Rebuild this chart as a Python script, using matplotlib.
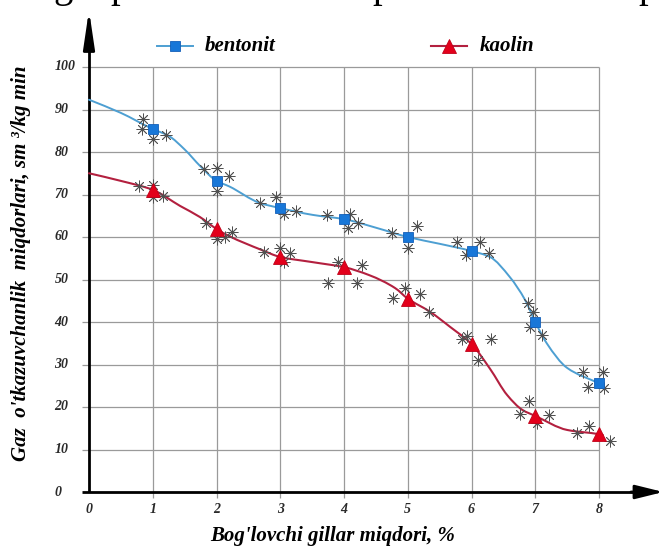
import numpy as np
import matplotlib
matplotlib.use("Agg")
import matplotlib.pyplot as plt
from matplotlib.path import Path
from matplotlib.patches import PathPatch

plt.rcParams['font.family'] = ['Liberation Serif', 'DejaVu Serif']

# ---------------- data ----------------
x_cat = [1, 2, 3, 4, 5, 6, 7, 8]
bentonit = [85.4, 73.2, 66.8, 64.2, 60.0, 56.7, 40.0, 25.6]
kaolin = [71.1, 61.9, 55.3, 52.9, 45.5, 34.8, 17.9, 13.6]

# fitted curves
bent_curve_x = [0, 0.5, 1, 1.25, 1.5, 1.75, 2, 2.2, 2.68, 3, 3.51, 4, 4.52, 5, 5.5, 6, 6.29, 6.6, 6.84, 7, 7.18, 7.5, 8, 8.06]
bent_curve_y = [92.3, 89.2, 85.4, 83.8, 80.6, 76.6, 73.2, 71.9, 68.0, 66.8, 65.2, 64.2, 62.1, 60.0, 58.4, 56.7, 55.3, 50.6, 45.2, 40.0, 35.0, 29.2, 25.6, 25.2]
kaol_curve_x = [0, 0.5, 1, 1.43, 1.74, 2, 2.2, 2.7, 3, 3.5, 4, 4.4, 4.8, 5, 5.35, 5.66, 6, 6.29, 6.56, 6.8, 7, 7.5, 8, 8.06]
kaol_curve_y = [75.0, 73.2, 71.1, 67.3, 64.7, 61.9, 60.2, 57.0, 55.3, 54.1, 52.9, 51.0, 48.0, 45.5, 42.4, 38.9, 34.8, 29.0, 22.8, 19.3, 17.9, 14.6, 13.6, 13.4]

# experimental points (asterisks)
bent_obs_x = [0.85, 0.83, 1.0, 1.21, 1.80, 2.01, 2.20, 2.01, 2.68, 2.93, 3.06, 3.25,
              3.73, 4.09, 4.06, 4.22, 4.75, 5.15, 5.01, 5.77, 6.13, 5.91, 6.27,
              6.89, 6.96, 6.92, 7.11, 7.75, 8.06, 7.83, 8.08]
bent_obs_y = [87.8, 85.4, 83.1, 84.0, 76.0, 76.2, 74.4, 70.8, 68.0, 69.4, 65.4, 66.1,
              65.2, 65.4, 62.1, 63.3, 60.9, 62.6, 57.4, 58.8, 58.8, 55.8, 56.2,
              44.5, 42.4, 38.8, 36.9, 28.2, 28.2, 24.7, 24.5]
kaol_obs_x = [0.78, 1.0, 1.0, 1.16, 1.84, 2.01, 2.13, 2.24, 2.75, 3.0, 3.15, 3.06,
              3.91, 4.28, 3.75, 4.20, 4.77, 4.96, 5.19, 5.33, 5.85, 5.93, 6.31, 6.10,
              6.90, 6.76, 7.22, 7.03, 7.65, 7.84, 8.17]
kaol_obs_y = [72.0, 72.2, 69.4, 69.6, 63.3, 59.5, 60.0, 61.2, 56.5, 57.4, 56.2, 54.1,
              54.1, 53.4, 49.2, 49.2, 45.6, 48.0, 46.6, 42.4, 36.0, 36.7, 36.0, 31.1,
              21.4, 18.4, 18.1, 16.2, 13.9, 15.5, 12.0]

x_ticks = [0, 1, 2, 3, 4, 5, 6, 7, 8]
y_ticks = [0, 10, 20, 30, 40, 50, 60, 70, 80, 90, 100]
xlabel = "Bog'lovchi gillar miqdori, %"
ylabel = "Gaz  o'tkazuvchanlik  miqdorlari, sm \u00b3/kg min"
legend_labels = ["bentonit", "kaolin"]

# ---------------- colors ----------------
BLUE_LINE = '#4d9fd2'
BLUE_MK = '#1877d8'
RED_LINE = '#b3203f'
RED_MK = '#e3001b'
GRID = '#9a9a9a'


def smooth_patch(xs, ys, color, lw):
    xs = np.asarray(xs, float)
    ys = np.asarray(ys, float)
    h = np.diff(xs)
    d = np.diff(ys) / h
    n = len(xs)
    m = np.zeros(n)
    m[0] = d[0]
    m[-1] = d[-1]
    for k in range(1, n - 1):
        if d[k - 1] * d[k] <= 0:
            m[k] = 0
        else:
            w1 = 2 * h[k] + h[k - 1]
            w2 = h[k] + 2 * h[k - 1]
            m[k] = (w1 + w2) / (w1 / d[k - 1] + w2 / d[k])
    verts = [(xs[0], ys[0])]
    codes = [Path.MOVETO]
    for k in range(n - 1):
        verts += [(xs[k] + h[k] / 3, ys[k] + m[k] * h[k] / 3),
                  (xs[k + 1] - h[k] / 3, ys[k + 1] - m[k + 1] * h[k] / 3),
                  (xs[k + 1], ys[k + 1])]
        codes += [Path.CURVE4] * 3
    return PathPatch(Path(verts, codes), fill=False, edgecolor=color, lw=lw,
                     zorder=3, capstyle='round')


fig = plt.figure(figsize=(6.64, 5.47), dpi=100)
ax = fig.add_axes([0, 0, 1, 1])
ax.axis('off')
# pixel mapping: x=0 -> 89px, 63.75 px/unit; y=0 -> 492px, 4.25 px/unit
ax.set_xlim(-89 / 63.75, (664 - 89) / 63.75)
ax.set_ylim((492 - 547) / 4.25, 492 / 4.25)

# grid
ax.vlines(x_ticks[1:], -1.4, 100, colors=GRID, lw=0.9, zorder=1)
ax.hlines(y_ticks[1:], -0.11, 8, colors=GRID, lw=0.9, zorder=1)

# axes with arrows
ax.plot([-0.11, 8.7], [0, 0], color='black', lw=2.0, zorder=2, solid_capstyle='butt')
ax.plot([0, 0], [0, 106], color='black', lw=2.0, zorder=2, solid_capstyle='butt')
ax.annotate('', xy=(9.01, 0), xytext=(8.5, 0),
            arrowprops=dict(arrowstyle='-|>,head_length=17,head_width=4.2',
                            mutation_scale=1, color='black', lw=2.0,
                            shrinkA=0, shrinkB=0), zorder=2)
ax.annotate('', xy=(0, 113.4), xytext=(0, 104),
            arrowprops=dict(arrowstyle='-|>,head_length=23,head_width=3.4',
                            mutation_scale=1, color='black', lw=2.0,
                            shrinkA=0, shrinkB=0), zorder=2)

# tick labels
tick_font = dict(fontsize=10, fontweight='bold', fontstyle='italic', color='#2a2a2a')
for yv in y_ticks:
    ax.text(-0.54, yv, str(yv), ha='left', va='center', **tick_font)
for xv in x_ticks:
    ax.text(xv, -4.2, str(xv), ha='center', va='center', **tick_font)

# axis labels
ax.text(3.82, -10.35, xlabel, ha='center', va='center', fontsize=15,
        fontweight='bold', fontstyle='italic', color='black')
ax.text(-1.06, 53.9, ylabel, ha='center', va='center', rotation=90, fontsize=15,
        fontweight='bold', fontstyle='italic', color='black')

# curves
ax.add_patch(smooth_patch(bent_curve_x, bent_curve_y, BLUE_LINE, 1.4))
ax.add_patch(smooth_patch(kaol_curve_x, kaol_curve_y, RED_LINE, 1.5))

# asterisks
ast = dict(marker=(8, 2, 0), s=65, color='#505050', linewidths=0.6, zorder=4)
ax.scatter(bent_obs_x, bent_obs_y, **ast)
ax.scatter(kaol_obs_x, kaol_obs_y, **ast)

# main markers
ax.plot(x_cat, bentonit, ls='none', marker='s', ms=7.5, mfc=BLUE_MK,
        mec='#1460b8', mew=0.6, zorder=5)
ax.plot(x_cat, kaolin, ls='none', marker='^', ms=9.5, mfc=RED_MK,
        mec='#c00018', mew=0.6, zorder=5)

# legend (manual, placed at top)
ly = (492 - 46) / 4.25
bx0, bx1 = (157 - 89) / 63.75, (193 - 89) / 63.75
ax.plot([bx0, bx1], [ly, ly], color=BLUE_LINE, lw=1.4)
ax.plot([(bx0 + bx1) / 2], [ly], ls='none', marker='s', ms=7.5, mfc=BLUE_MK,
        mec='#1460b8', mew=0.6)
ax.text((205 - 89) / 63.75, ly, legend_labels[0], ha='left', va='center',
        fontsize=15, fontweight='bold', fontstyle='italic')
kx0, kx1 = (431 - 89) / 63.75, (467 - 89) / 63.75
ax.plot([kx0, kx1], [ly, ly], color=RED_LINE, lw=1.5)
ax.plot([(kx0 + kx1) / 2], [ly], ls='none', marker='^', ms=9.5, mfc=RED_MK,
        mec='#c00018', mew=0.6)
ax.text((480 - 89) / 63.75, ly, legend_labels[1], ha='left', va='center',
        fontsize=15, fontweight='bold', fontstyle='italic')

# cut-off text line from the surrounding page at the very top
top_y = (492 + 3) / 4.25
for ch, px in [('g', 53), ('p', 110), ('p', 372), ('p', 638)]:
    ax.text((px - 89) / 63.75, top_y, ch, ha='left', va='baseline', fontsize=28,
            family='Liberation Serif', color='black', clip_on=False)

fig.savefig('out.png', dpi=100)
